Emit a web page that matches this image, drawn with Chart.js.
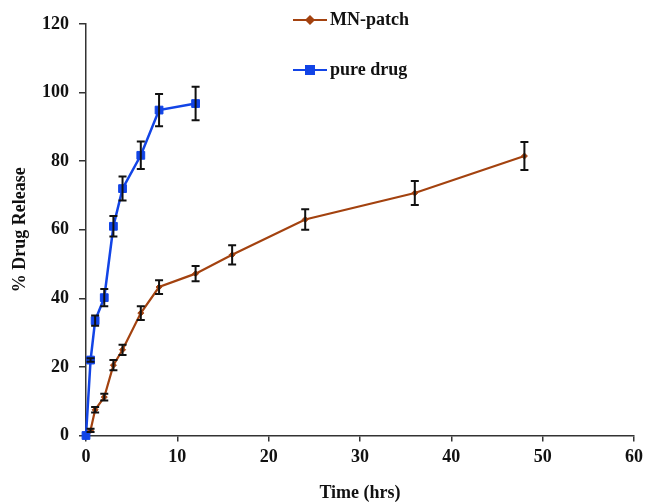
<!DOCTYPE html>
<html>
<head>
<meta charset="utf-8">
<script src="https://cdn.jsdelivr.net/npm/chart.js@4.4.0/dist/chart.umd.min.js"></script>
<style>
  html, body { margin: 0; padding: 0; background: #fff; }
  #wrap { width: 648px; height: 503px; }
</style>
</head>
<body>
<div id="wrap"><canvas id="c" width="648" height="503"></canvas></div>
<script>
// ---- data ----
const mnTimes  = [0, 0.5, 1, 2, 3, 4, 6, 8, 12, 16, 24, 36, 48];
const mnValues = [0, 1.5, 7.5, 11.2, 20.5, 25, 35.7, 43.3, 47.2, 52.7, 63, 70.7, 81.5];
const mnErrors = [0, 0.5, 0.8, 1, 1.5, 1.5, 2, 2, 2.2, 2.8, 3, 3.5, 4.1];

const pureTimes  = [0, 0.5, 1, 2, 3, 4, 6, 8, 12];
const pureValues = [0, 22, 33.5, 40.2, 61, 72, 81.7, 94.9, 96.8];
const pureErrors = [0, 0.5, 1.5, 2.5, 3, 3.5, 4, 4.7, 4.9];

const xTicks = [0, 10, 20, 30, 40, 50, 60];
const yTicks = [0, 20, 40, 60, 80, 100, 120];

const seriesNames = ['MN-patch', 'pure drug'];
const xTitle = 'Time (hrs)';
const yTitle = '% Drug Release';

// ---- styles ----
const FONT = "'Liberation Serif', 'Times New Roman', serif";
const BROWN = '#a3420f';
const BLUE = '#1244e6';

function toPoints(xs, ys) { return xs.map((x, i) => ({ x: x, y: ys[i] })); }

const errorBarPlugin = {
  id: 'errorBars',
  afterDatasetsDraw(chart) {
    const ctx = chart.ctx;
    const xs = chart.scales.x, ys = chart.scales.y;
    ctx.save();
    ctx.strokeStyle = '#111';
    ctx.lineWidth = 2;
    chart.data.datasets.forEach(ds => {
      ds.data.forEach((p, i) => {
        const e = ds.errors[i];
        if (!e) return;
        const px = xs.getPixelForValue(p.x);
        const top = ys.getPixelForValue(p.y + e);
        const bot = ys.getPixelForValue(p.y - e);
        ctx.beginPath();
        ctx.moveTo(px, top); ctx.lineTo(px, bot);
        ctx.moveTo(px - 4, top); ctx.lineTo(px + 4, top);
        ctx.moveTo(px - 4, bot); ctx.lineTo(px + 4, bot);
        ctx.stroke();
      });
    });
    ctx.restore();
  }
};

const legendPlugin = {
  id: 'customLegend',
  afterDraw(chart) {
    const ctx = chart.ctx;
    const items = [
      { name: seriesNames[0], color: BROWN, style: 'rectRot', r: 3.5, y: 20 },
      { name: seriesNames[1], color: BLUE, style: 'rect', r: 5.5, y: 70 }
    ];
    ctx.save();
    items.forEach(it => {
      ctx.strokeStyle = it.color;
      ctx.lineWidth = 2.2;
      ctx.beginPath();
      ctx.moveTo(293, it.y); ctx.lineTo(327, it.y);
      ctx.stroke();
      ctx.fillStyle = it.color;
      Chart.helpers.drawPoint(ctx, { pointStyle: it.style, radius: it.r, borderWidth: 1 }, 310, it.y);
      ctx.fillStyle = '#111';
      ctx.font = 'bold 18px ' + FONT;
      ctx.textBaseline = 'middle';
      ctx.textAlign = 'left';
      ctx.fillText(it.name, 330, it.y);
    });
    ctx.restore();
  }
};

new Chart(document.getElementById('c'), {
  type: 'line',
  data: {
    datasets: [
      {
        label: seriesNames[0],
        data: toPoints(mnTimes, mnValues),
        errors: mnErrors,
        borderColor: BROWN,
        backgroundColor: BROWN,
        borderWidth: 2.2,
        pointStyle: 'rectRot',
        pointRadius: 3,
        pointBorderWidth: 1,
        tension: 0,
        clip: false,
        order: 1
      },
      {
        label: seriesNames[1],
        data: toPoints(pureTimes, pureValues),
        errors: pureErrors,
        borderColor: BLUE,
        backgroundColor: BLUE,
        borderWidth: 2.5,
        pointStyle: 'rect',
        pointRadius: 5.5,
        pointBorderWidth: 1,
        tension: 0,
        clip: false,
        order: 0
      }
    ]
  },
  options: {
    responsive: false,
    animation: false,
    layout: { padding: { left: 0, right: 13, top: 24, bottom: 0 } },
    plugins: { legend: { display: false }, tooltip: { enabled: false } },
    scales: {
      x: {
        type: 'linear',
        min: 0, max: 60,
        afterBuildTicks(scale) { scale.ticks = xTicks.map(v => ({ value: v })); },
        afterFit(scale) { scale.height = 67.5; },
        grid: { drawOnChartArea: false, drawTicks: true, tickLength: 6, color: '#333', lineWidth: 1.5 },
        border: { color: '#333', width: 1.5 },
        ticks: { color: '#111', padding: 5, font: { family: FONT, size: 18, weight: 'bold' }, maxRotation: 0 },
        title: { display: true, text: xTitle, color: '#111', padding: { top: 0, bottom: -1 }, font: { family: FONT, size: 18, weight: 'bold' } }
      },
      y: {
        min: 0, max: 120,
        afterBuildTicks(scale) { scale.ticks = yTicks.map(v => ({ value: v })); },
        afterFit(scale) { scale.width = 86; },
        grid: { drawOnChartArea: false, drawTicks: true, tickLength: 7, color: '#333', lineWidth: 1.5 },
        border: { color: '#333', width: 1.5 },
        ticks: { color: '#111', padding: 10, font: { family: FONT, size: 18, weight: 'bold' } },
        title: { display: true, text: yTitle, color: '#111', padding: { top: 10, bottom: 0 }, font: { family: FONT, size: 18, weight: 'bold' } }
      }
    }
  },
  plugins: [errorBarPlugin, legendPlugin]
});
</script>
</body>
</html>
